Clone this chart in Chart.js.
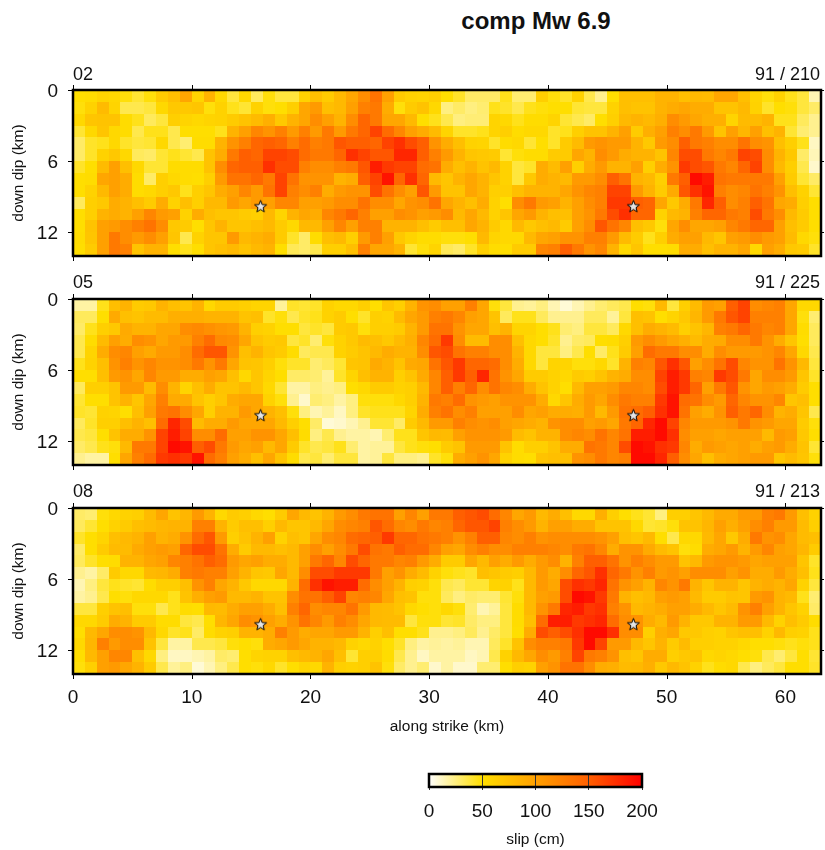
<!DOCTYPE html>
<html>
<head>
<meta charset="utf-8">
<title>comp Mw 6.9</title>
<script src="https://cdn.jsdelivr.net/npm/chart.js@4"></script>
<style>
  html, body { margin: 0; padding: 0; background: #fff; overflow: hidden; }
  body { position: relative; width: 825px; height: 850px; overflow: hidden; font-family: "Liberation Sans", sans-serif; color: #111; }
  canvas { position: absolute; left: 0; }
  .txt { position: absolute; white-space: nowrap; line-height: 1; }
</style>
</head>
<body>
<div class="txt" style="left:336px;width:400px;text-align:center;top:9px;font-size:24px;font-weight:bold">comp Mw 6.9</div>

<canvas id="p02" width="829" height="195" style="top:70px"></canvas>
<div class="txt" style="left:73px;top:65px;font-size:18px">02</div>
<div class="txt" style="right:5px;top:65px;font-size:18px">91 / 210</div>

<canvas id="p05" width="829" height="195" style="top:279px"></canvas>
<div class="txt" style="left:73px;top:273px;font-size:18px">05</div>
<div class="txt" style="right:5px;top:273px;font-size:18px">91 / 225</div>

<canvas id="p08" width="829" height="250" style="top:488px"></canvas>
<div class="txt" style="left:73px;top:482px;font-size:18px">08</div>
<div class="txt" style="right:5px;top:482px;font-size:18px">91 / 213</div>

<canvas id="bar" width="825" height="90" style="top:760px"></canvas>

<script>
// ========== Data ==========
const xTicks = [0, 10, 20, 30, 40, 50, 60];
const yTicks = [0, 6, 12];
const barTicks = [0, 50, 100, 150, 200];
const starX = [15.8, 47.2];
const starY = [9.8, 9.8];

// slip in cm, one row per km down dip, one column per km along strike
const slip02 = [
  [50,52,58,56,48,40,48,65,75,95,58,85,55,38,55,32,48,38,38,60,75,65,80,95,115,135,100,65,60,58,62,50,42,30,30,30,45,28,28,62,48,42,60,35,22,50,75,75,75,85,85,75,80,78,95,95,75,58,48,60,45,38,15],
  [48,60,78,58,35,35,38,55,68,68,70,48,60,45,40,60,48,50,62,95,105,75,80,100,125,130,90,48,65,72,55,25,30,25,28,45,42,35,45,48,50,50,40,38,38,60,75,72,72,85,90,95,90,90,72,72,80,60,42,50,48,38,30],
  [55,70,72,72,52,45,32,38,62,58,55,58,60,65,72,78,88,68,85,95,115,100,85,115,145,130,95,95,80,50,45,35,25,27,27,58,55,45,52,52,58,40,35,30,50,62,80,85,80,88,115,105,95,88,88,58,78,78,85,45,45,32,22],
  [40,55,70,55,52,35,45,45,35,50,50,50,45,85,100,120,110,125,105,125,105,130,105,130,145,165,140,120,100,90,78,58,42,42,45,58,62,52,55,55,42,45,62,72,72,85,100,65,88,100,125,115,130,105,72,100,82,100,75,85,40,28,22],
  [30,42,45,55,42,38,40,55,35,28,52,52,85,110,125,145,150,145,125,140,125,130,155,150,150,145,165,175,160,150,110,90,75,60,58,42,52,55,40,50,42,65,78,105,110,105,105,85,68,105,115,150,130,125,115,115,135,115,110,75,62,45,12],
  [30,42,60,68,55,32,30,40,45,40,35,72,90,130,150,145,165,165,160,140,130,130,145,175,165,155,155,180,180,150,125,105,85,70,68,65,40,48,52,52,65,65,95,85,115,105,90,85,85,72,120,160,160,130,120,130,165,160,115,85,68,30,14],
  [42,50,78,100,75,55,40,40,52,52,52,72,115,145,150,150,175,160,160,125,115,115,125,130,155,185,170,165,165,140,135,90,75,85,72,80,60,38,42,90,78,100,62,90,105,85,85,100,62,90,110,170,160,155,130,120,145,165,115,80,62,35,10],
  [50,52,95,100,90,52,30,62,55,52,50,62,105,135,135,145,130,165,135,110,110,110,85,90,150,165,190,145,175,145,80,70,85,95,85,70,60,38,68,90,85,80,105,105,115,150,135,85,80,62,130,150,195,185,135,130,130,130,130,100,65,40,30],
  [50,60,80,100,90,52,55,62,68,45,62,70,90,100,120,105,135,165,125,115,125,90,105,110,110,160,135,115,100,155,105,72,72,95,85,62,62,75,85,85,85,95,110,120,125,165,165,105,85,65,92,155,175,190,125,115,120,135,125,110,75,60,40],
  [32,62,68,90,85,75,65,90,60,75,62,80,80,105,95,105,100,120,120,100,100,105,115,115,135,115,115,95,110,115,135,95,85,75,90,60,50,115,130,105,100,85,100,115,125,170,170,150,145,95,68,90,130,180,150,115,125,150,135,95,90,62,50],
  [50,62,85,90,85,100,120,105,100,60,90,75,70,70,65,62,80,58,85,95,90,120,130,145,125,100,100,115,110,100,105,115,80,95,80,60,70,95,105,85,75,75,100,110,130,160,175,145,145,60,80,85,125,145,145,130,125,160,130,115,80,65,50],
  [50,72,100,105,115,125,135,115,68,65,50,70,85,70,70,75,80,65,55,80,80,100,120,100,125,125,85,85,85,75,65,75,75,95,85,65,55,80,68,75,80,65,100,115,155,135,120,75,68,48,95,115,95,95,100,120,130,145,145,100,75,65,50],
  [52,70,100,130,115,105,115,100,70,35,60,70,70,105,80,85,90,65,42,30,52,75,80,62,105,125,100,68,58,52,52,48,48,50,80,58,55,55,80,95,100,110,110,125,125,105,78,65,45,62,90,100,100,80,70,100,105,115,105,100,78,55,48],
  [50,65,100,130,125,72,85,85,50,45,50,70,75,80,72,80,85,50,33,30,35,62,62,75,125,95,95,85,40,48,58,33,30,42,62,52,50,65,65,120,125,150,130,110,120,85,55,70,50,50,52,90,90,75,85,85,95,55,100,90,68,65,42]
];

const slip05 = [
  [18,18,45,75,85,65,68,85,75,72,85,55,65,65,62,58,58,20,42,40,42,60,55,55,62,50,70,62,85,110,115,100,100,125,95,48,38,22,20,25,15,8,15,22,28,32,35,50,48,80,38,62,78,105,100,150,165,115,120,125,95,55,55],
  [32,32,50,92,75,72,78,78,88,88,88,85,85,85,72,75,42,48,35,42,45,60,65,50,42,62,60,78,95,105,125,130,120,100,95,72,32,45,45,32,22,22,22,32,32,20,38,75,72,50,58,68,82,105,130,155,165,125,125,125,95,48,28],
  [30,45,62,68,92,85,85,95,95,115,118,112,108,105,85,62,60,50,50,38,42,38,65,68,48,62,62,65,85,105,135,135,110,95,95,75,85,58,58,50,45,28,25,38,38,32,55,75,90,85,78,62,72,82,125,130,145,130,120,125,95,52,32],
  [35,52,78,100,90,115,110,95,105,105,125,140,118,115,95,72,65,68,38,42,28,48,60,68,78,75,68,78,88,120,140,170,115,78,78,115,115,75,55,50,42,22,30,32,50,52,62,105,115,105,95,88,78,90,92,115,115,130,110,90,70,50,32],
  [35,58,90,115,120,100,92,105,105,115,140,155,155,110,75,85,70,65,52,32,35,35,60,65,72,80,90,85,85,115,155,160,135,125,125,115,115,85,55,38,38,25,35,50,30,45,65,100,140,130,130,115,115,90,115,105,105,105,110,120,95,55,35],
  [45,60,75,110,125,110,120,110,110,115,130,110,130,95,72,70,62,48,42,42,28,32,40,70,72,92,85,72,92,95,135,155,170,145,145,140,115,90,55,38,58,58,48,48,55,42,85,125,120,155,175,155,100,115,135,160,120,110,110,135,110,80,38],
  [50,50,75,105,110,95,120,105,105,90,90,100,95,75,55,70,58,50,30,30,28,20,42,58,75,85,85,62,72,92,120,150,170,150,180,135,110,95,65,65,60,55,65,62,72,85,90,115,115,165,185,170,125,120,170,160,130,95,115,115,105,70,42],
  [32,62,62,72,105,105,78,115,85,58,75,90,72,72,80,70,55,40,18,18,25,22,25,50,55,65,65,60,62,80,120,150,125,145,115,135,120,115,90,72,60,50,80,100,100,105,120,120,115,160,185,170,145,100,130,155,110,95,105,100,90,65,50],
  [40,50,50,72,85,70,95,125,92,92,72,62,70,90,95,95,60,48,22,10,28,25,18,25,48,48,48,55,62,85,130,125,140,110,105,100,110,110,110,90,55,70,90,105,95,115,130,125,125,170,190,140,135,115,105,145,120,110,110,120,70,75,50],
  [42,40,60,58,50,75,100,130,135,115,95,62,85,85,105,95,85,75,48,25,15,20,12,25,42,45,45,45,58,90,125,135,115,125,100,100,100,115,95,100,90,90,88,105,80,105,135,140,150,175,190,135,100,90,110,150,130,145,115,85,90,70,35],
  [32,42,62,62,75,85,75,140,180,160,78,90,90,105,95,95,95,80,62,50,30,8,10,15,22,40,40,30,65,80,105,105,125,115,110,115,100,95,90,85,110,115,115,100,105,95,130,145,180,195,165,120,105,105,105,110,130,110,105,95,95,65,48],
  [35,38,50,72,90,90,110,165,185,165,115,115,140,100,100,110,110,95,75,52,25,35,22,18,18,15,28,45,45,70,80,78,100,110,110,110,105,78,72,85,85,115,120,115,135,120,135,185,185,195,175,115,100,100,95,100,100,100,80,105,100,68,50],
  [30,35,45,48,80,130,130,165,195,190,150,160,130,105,95,100,80,95,65,42,35,38,45,28,18,20,20,38,45,48,50,65,72,105,105,105,72,52,62,62,72,90,90,135,130,120,160,195,190,175,170,120,90,105,100,95,100,90,100,105,90,72,40],
  [22,18,18,50,95,125,140,170,175,170,190,140,125,100,90,75,95,72,52,35,38,28,38,38,18,20,38,25,25,22,42,48,90,100,110,95,60,52,50,72,75,75,110,115,130,120,125,195,195,180,150,115,95,75,90,95,100,105,105,70,78,70,48]
];

const slip08 = [
  [30,28,48,55,60,62,78,95,72,82,105,85,55,65,62,55,50,65,95,80,72,85,105,115,130,135,135,100,120,100,130,130,150,155,160,140,120,95,105,80,90,75,55,55,88,62,50,45,40,25,62,62,70,80,92,92,105,105,125,130,105,75,60],
  [32,40,50,60,65,75,78,82,85,85,125,125,85,65,75,75,62,80,70,70,80,95,115,120,125,155,140,120,115,130,120,125,145,155,155,165,125,115,105,85,100,100,90,90,72,72,72,55,40,42,48,72,72,82,100,88,100,115,125,105,105,78,62],
  [42,50,58,75,80,85,100,85,90,110,140,155,105,62,72,85,100,60,75,70,95,115,120,140,145,150,170,145,145,135,130,125,110,125,150,150,120,115,125,110,115,115,115,115,110,100,75,70,80,50,35,55,55,80,95,68,90,130,110,115,95,78,75],
  [30,50,65,78,78,92,100,105,100,145,160,160,135,90,65,80,80,75,80,100,115,100,115,130,160,135,130,150,140,140,120,100,95,115,125,115,115,125,125,125,120,115,130,135,120,90,110,110,92,78,72,48,52,90,95,105,85,105,120,100,95,82,65],
  [32,42,50,52,85,85,95,100,120,125,135,150,140,105,95,100,90,90,80,100,130,145,120,160,145,130,130,120,125,105,90,65,65,95,80,100,90,105,90,105,115,85,125,150,150,135,110,125,115,105,105,72,80,105,110,110,105,95,100,100,100,70,42],
  [22,18,30,65,55,55,80,82,90,125,130,125,125,100,85,70,68,95,80,115,160,160,170,170,170,130,100,110,90,78,60,48,45,42,75,70,65,62,80,105,90,115,145,155,175,145,130,110,125,105,110,100,115,115,115,100,110,90,90,105,90,75,45],
  [15,25,38,45,42,40,52,62,62,75,110,125,95,85,68,55,55,55,85,140,175,190,185,185,140,115,100,85,62,60,48,35,32,40,40,58,60,45,80,105,95,160,175,170,180,135,110,100,85,120,110,130,85,70,85,85,70,85,90,85,95,60,38],
  [18,22,35,50,48,55,55,55,45,72,88,100,105,80,80,85,72,72,115,135,135,150,165,120,125,120,95,75,72,48,48,32,25,30,28,28,40,48,80,100,105,160,195,190,170,130,85,75,80,100,105,100,80,65,65,72,70,105,110,85,80,45,28],
  [38,38,62,72,75,48,48,35,45,52,50,80,78,90,100,100,90,75,125,145,115,120,120,135,105,80,78,72,55,50,48,55,48,28,15,20,38,52,80,110,130,180,185,170,175,125,110,80,85,90,100,100,90,80,70,78,110,125,100,85,70,60,30],
  [55,55,65,90,85,65,65,52,52,38,35,50,82,95,115,110,100,90,110,135,120,105,125,115,95,80,78,78,38,48,48,40,42,30,25,25,38,52,75,140,185,185,170,175,180,140,115,110,90,80,105,85,68,68,85,85,105,105,80,60,75,65,52],
  [50,80,95,115,115,110,80,55,42,45,30,52,60,62,85,85,90,125,105,90,95,95,105,105,85,62,75,50,50,45,22,22,25,32,22,30,38,50,90,160,150,160,175,195,195,175,115,115,62,88,95,68,68,62,60,70,75,75,60,80,62,60,45],
  [55,82,125,105,115,115,72,38,18,18,35,35,38,48,50,48,90,95,105,95,85,85,80,60,55,60,50,42,25,18,20,18,20,15,15,32,42,72,115,125,125,130,170,195,165,105,105,80,70,85,65,78,62,62,60,60,55,50,50,48,45,48,45],
  [50,80,100,120,120,75,55,25,12,12,15,18,30,28,50,58,60,60,75,80,85,95,75,40,62,62,52,35,22,12,18,18,18,12,15,35,60,80,95,115,105,125,165,130,125,110,75,70,90,90,62,68,72,55,58,55,50,48,35,28,38,50,40],
  [48,62,100,105,95,85,65,35,20,25,8,15,25,35,50,48,55,42,50,58,55,85,62,60,62,72,48,30,22,28,10,18,10,10,28,28,50,62,60,100,110,135,135,115,90,88,78,80,88,68,80,72,60,45,52,55,35,25,32,38,50,50,42]
];

// slip -> colour, same stops as the colour bar
const stopValues = [0, 50, 100, 150, 200];
const stopGreen = [255, 222, 160, 95, 0];
const stopBlue = [255, 0, 0, 0, 0];

function slipColor(v) {
  let i = 0;
  while (i < stopValues.length - 2 && v > stopValues[i + 1]) i++;
  const t = Math.min(1, Math.max(0, (v - stopValues[i]) / (stopValues[i + 1] - stopValues[i])));
  const g = stopGreen[i] + (stopGreen[i + 1] - stopGreen[i]) * t;
  const b = stopBlue[i] + (stopBlue[i + 1] - stopBlue[i]) * t;
  return `rgb(255,${Math.round(g)},${Math.round(b)})`;
}

// ========== Star marker ==========
function crearEstrella() {
  const c = document.createElement("canvas");
  c.width = 15;
  c.height = 15;
  const g = c.getContext("2d");
  g.beginPath();
  for (let i = 0; i < 10; i++) {
    const r = i % 2 ? 2.7 : 6.3;
    const a = -Math.PI / 2 + (i * Math.PI) / 5;
    const px = 7.5 + r * Math.cos(a);
    const py = 8 + r * Math.sin(a);
    if (i) g.lineTo(px, py);
    else g.moveTo(px, py);
  }
  g.closePath();
  g.fillStyle = "#e4e4e4";
  g.fill();
  g.strokeStyle = "#000";
  g.lineWidth = 1;
  g.stroke();
  return c;
}
const estrella = crearEstrella();

// ========== Plugins ==========
const heatPlugin = {
  id: "heat",
  beforeDatasetsDraw(chart) {
    const x = chart.scales.x;
    const y = chart.scales.y;
    const ctx = chart.ctx;
    chart.data.datasets[0].data.forEach((cell) => {
      const x0 = Math.round(x.getPixelForValue(cell.x));
      const x1 = Math.round(x.getPixelForValue(cell.x + 1));
      const y0 = Math.round(y.getPixelForValue(cell.y));
      const y1 = Math.round(y.getPixelForValue(cell.y + 1));
      ctx.fillStyle = slipColor(cell.v);
      ctx.fillRect(x0, y0, x1 - x0, y1 - y0);
    });
  },
  // frame and outside ticks on all four sides
  afterDatasetsDraw(chart) {
    const x = chart.scales.x;
    const y = chart.scales.y;
    const a = chart.chartArea;
    const ctx = chart.ctx;
    ctx.save();
    ctx.strokeStyle = "#000";
    ctx.lineWidth = 1;
    ctx.beginPath();
    xTicks.forEach((v) => {
      const px = Math.round(x.getPixelForValue(v)) + 0.5;
      ctx.moveTo(px, a.top - 5);
      ctx.lineTo(px, a.top);
      ctx.moveTo(px, a.bottom);
      ctx.lineTo(px, a.bottom + 5);
    });
    yTicks.forEach((v) => {
      const py = Math.round(y.getPixelForValue(v)) + 0.5;
      ctx.moveTo(a.left - 5, py);
      ctx.lineTo(a.left, py);
      ctx.moveTo(a.right, py);
      ctx.lineTo(a.right + 3, py);
    });
    ctx.stroke();
    ctx.lineWidth = 2.5;
    ctx.strokeRect(a.left, a.top, a.right - a.left, a.bottom - a.top);
    ctx.restore();
  },
};

const barPlugin = {
  id: "barFill",
  beforeDatasetsDraw(chart) {
    const x = chart.scales.x;
    const a = chart.chartArea;
    const ctx = chart.ctx;
    const grad = ctx.createLinearGradient(x.getPixelForValue(0), 0, x.getPixelForValue(200), 0);
    stopValues.forEach((v) => grad.addColorStop(v / 200, slipColor(v)));
    ctx.fillStyle = grad;
    ctx.fillRect(a.left, a.top, a.right - a.left, a.bottom - a.top);
  },
  afterDraw(chart) {
    const a = chart.chartArea;
    const ctx = chart.ctx;
    ctx.strokeStyle = "#000";
    ctx.lineWidth = 2.5;
    ctx.strokeRect(a.left, a.top, a.right - a.left, a.bottom - a.top);
  },
};

// ========== Panels ==========
const tickFont = { family: "Liberation Sans", size: 19 };
const labelFont = { family: "Liberation Sans", size: 15.5 };

function fijarTicks(lista) {
  return (scale) => {
    scale.ticks = lista.map((v) => ({ value: v }));
  };
}

// the tick labels must not push the plot area around
function sinMargen(scale) {
  scale.paddingTop = 0;
  scale.paddingBottom = 0;
  scale.paddingLeft = 0;
  scale.paddingRight = 0;
}

function crearPanel(id, filas, conEjeX) {
  const celdas = [];
  filas.forEach((fila, r) => fila.forEach((v, c) => celdas.push({ x: c, y: r, v: v })));
  const estrellas = starX.map((x, i) => ({ x: x, y: starY[i] }));
  const alto = document.getElementById(id).height;

  new Chart(document.getElementById(id), {
    type: "scatter",
    data: {
      datasets: [
        { data: celdas, pointRadius: 0 },
        { data: estrellas, pointStyle: estrella, pointRadius: 7 },
      ],
    },
    plugins: [heatPlugin],
    options: {
      responsive: false,
      animation: false,
      events: [],
      layout: { padding: { top: 20, right: 1.5 } },
      plugins: { legend: { display: false }, tooltip: { enabled: false } },
      scales: {
        x: {
          type: "linear",
          position: "bottom",
          min: 0,
          max: 63,
          afterBuildTicks: fijarTicks(xTicks),
          afterFit: (s) => { s.height = alto - 186; sinMargen(s); },
          border: { display: false },
          grid: { display: false, drawTicks: false },
          ticks: { display: conEjeX, font: tickFont, color: "#111", maxRotation: 0, autoSkip: false, padding: 12 },
          title: { display: conEjeX, text: "along strike (km)", font: labelFont, color: "#111", padding: { top: 4, bottom: 2 } },
        },
        y: {
          type: "linear",
          position: "left",
          reverse: true,
          min: 0,
          max: 14,
          afterBuildTicks: fijarTicks(yTicks),
          afterFit: (s) => { s.width = 73; sinMargen(s); },
          border: { display: false },
          grid: { display: false, drawTicks: false },
          ticks: { font: tickFont, color: "#111", padding: 15, labelOffset: 1.5, autoSkip: false },
          title: { display: true, text: "down dip (km)", font: labelFont, color: "#111", padding: { top: 9, bottom: 0 } },
        },
      },
    },
  });
}

crearPanel("p02", slip02, false);
crearPanel("p05", slip05, false);
crearPanel("p08", slip08, true);

// ========== Colour bar ==========
new Chart(document.getElementById("bar"), {
  type: "scatter",
  data: { datasets: [{ data: [], pointRadius: 0 }] },
  plugins: [barPlugin],
  options: {
    responsive: false,
    animation: false,
    events: [],
    layout: { padding: { left: 429, right: 183, top: 14 } },
    plugins: { legend: { display: false }, tooltip: { enabled: false } },
    scales: {
      x: {
        type: "linear",
        min: 0,
        max: 200,
        afterBuildTicks: fijarTicks(barTicks),
        afterFit: (s) => { s.height = 63; sinMargen(s); },
        border: { display: false },
        grid: { color: "#333", tickLength: 3, z: 1 },
        ticks: { font: tickFont, color: "#111", padding: 10, maxRotation: 0, autoSkip: false },
        title: { display: true, text: "slip (cm)", font: labelFont, color: "#111", padding: { top: 4, bottom: 1 } },
      },
      y: { display: false, min: 0, max: 1 },
    },
  },
});
</script>
</body>
</html>
